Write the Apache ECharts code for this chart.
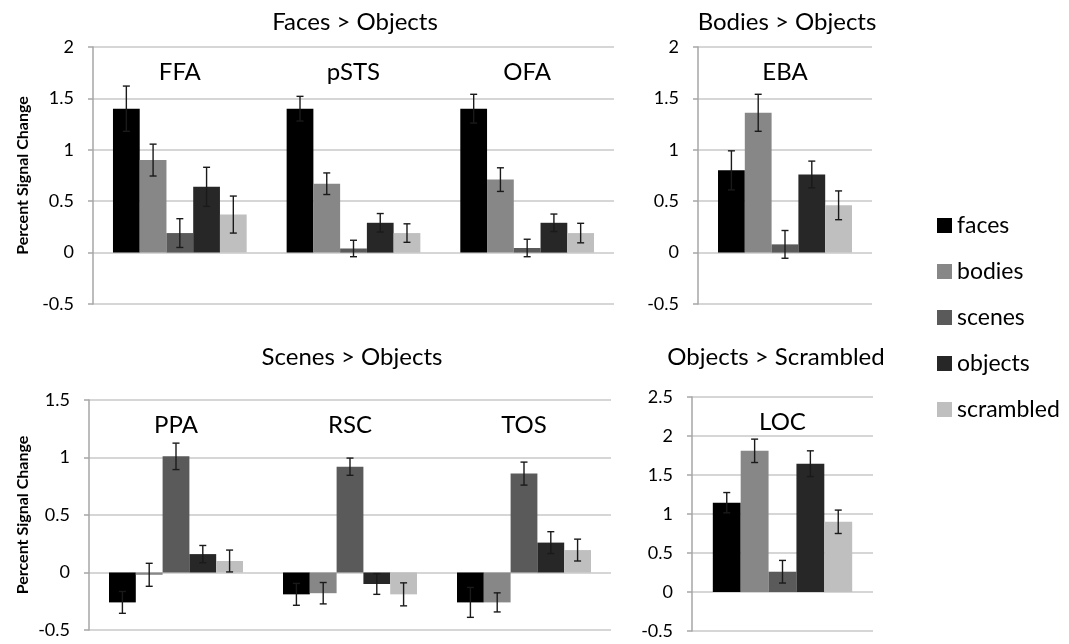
<!DOCTYPE html>
<html><head><meta charset="utf-8">
<script src="https://cdn.jsdelivr.net/npm/echarts@6/dist/echarts.min.js"></script>
<style>html,body{margin:0;padding:0;background:#fff}#c{width:1069px;height:644px}</style>
</head><body><div id="c"></div>
<script>
// ---------------- data ----------------
const conditions = ['faces', 'bodies', 'scenes', 'objects', 'scrambled'];
const colors = ['#000000', '#878787', '#5a5a5a', '#272727', '#bfbfbf'];

const faceRegions = ['FFA', 'pSTS', 'OFA'];
const faceMeans = [
  [1.40, 1.40, 1.40],
  [0.90, 0.67, 0.71],
  [0.19, 0.04, 0.045],
  [0.64, 0.29, 0.29],
  [0.37, 0.19, 0.19]
];
const faceErrs = [
  [0.22, 0.12, 0.14],
  [0.155, 0.105, 0.115],
  [0.14, 0.08, 0.085],
  [0.19, 0.09, 0.085],
  [0.18, 0.09, 0.095]
];

const bodyRegions = ['EBA'];
const bodyMeans = [[0.80], [1.36], [0.08], [0.76], [0.46]];
const bodyErrs = [[0.19], [0.18], [0.135], [0.13], [0.14]];

const sceneRegions = ['PPA', 'RSC', 'TOS'];
const sceneMeans = [
  [-0.26, -0.19, -0.26],
  [-0.02, -0.18, -0.26],
  [1.01, 0.92, 0.86],
  [0.16, -0.10, 0.26],
  [0.10, -0.19, 0.195]
];
const sceneErrs = [
  [0.095, 0.095, 0.13],
  [0.10, 0.093, 0.083],
  [0.115, 0.075, 0.10],
  [0.075, 0.09, 0.095],
  [0.095, 0.10, 0.095]
];

const objectRegions = ['LOC'];
const objectMeans = [[1.145], [1.81], [0.26], [1.645], [0.90]];
const objectErrs = [[0.13], [0.15], [0.145], [0.165], [0.15]];

const panelTitles = ['Faces > Objects', 'Bodies > Objects', 'Scenes > Objects', 'Objects > Scrambled'];
const yRanges = [[-0.5, 2], [-0.5, 2], [-0.5, 1.5], [-0.5, 2.5]];
const yStep = 0.5;
const yName = 'Percent Signal Change';

// ---------------- layout ----------------
const FONT = 'Lato, "Open Sans", sans-serif';
const GAP = 0.23;
const panels = [
  { regions: faceRegions, means: faceMeans, errs: faceErrs },
  { regions: bodyRegions, means: bodyMeans, errs: bodyErrs },
  { regions: sceneRegions, means: sceneMeans, errs: sceneErrs },
  { regions: objectRegions, means: objectMeans, errs: objectErrs }
];
const grids = [
  { left: 93, top: 47, width: 521, height: 257 },
  { left: 698, top: 47, width: 174, height: 257 },
  { left: 89, top: 400, width: 522, height: 230 },
  { left: 692, top: 397, width: 181, height: 234 }
];
const titlePos = [[355, 10], [787, 10], [352, 345], [776, 345]];

const xAxes = [], yAxes = [], series = [], titles = [];
panels.forEach((p, pi) => {
  xAxes.push({
    gridIndex: pi, type: 'category', data: p.regions, position: 'top',
    axisLine: { show: false }, axisTick: { show: false }, splitLine: { show: false },
    axisLabel: { inside: true, margin: 13, fontSize: 24, color: '#000', fontFamily: FONT }
  });
  yAxes.push({
    gridIndex: pi, type: 'value', min: yRanges[pi][0], max: yRanges[pi][1], interval: yStep,
    name: (pi % 2 === 0) ? yName : '',
    nameLocation: 'middle', nameRotate: 90, nameGap: grids[pi].left - 31,
    nameTextStyle: { fontSize: 16, fontWeight: 'bold', color: '#000', fontFamily: FONT },
    axisLine: { show: true, lineStyle: { color: '#a6a6a6', width: 1.5 } },
    axisTick: { show: true, length: 5, lineStyle: { color: '#a6a6a6', width: 1.5 } },
    axisLabel: { fontSize: 18, color: '#000', margin: 19, fontFamily: FONT },
    splitLine: { show: true, lineStyle: { color: '#c8c8c8', width: 1.5 } }
  });
  titles.push({
    text: panelTitles[pi], left: titlePos[pi][0], top: titlePos[pi][1], textAlign: 'center', padding: 0,
    textStyle: { fontSize: 24, fontWeight: 'normal', color: '#000', fontFamily: FONT }
  });
  conditions.forEach((c, ci) => {
    series.push({
      type: 'bar', name: c, xAxisIndex: pi, yAxisIndex: pi,
      data: p.means[ci], barGap: '0%', barCategoryGap: (GAP * 100) + '%',
      itemStyle: { color: colors[ci] }, silent: true
    });
  });
  const errData = [];
  conditions.forEach((c, ci) => {
    p.regions.forEach((r, ri) => errData.push([ri, ci, p.means[ci][ri], p.errs[ci][ri]]));
  });
  series.push({
    type: 'custom', xAxisIndex: pi, yAxisIndex: pi, data: errData, silent: true, z: 5,
    encode: { x: 0, y: 2 },
    renderItem: function (params, api) {
      const cat = api.value(0), ci = api.value(1), m = api.value(2), e = api.value(3);
      const base = api.coord([cat, m]);
      const bw = api.size([1, 0], [cat, m])[0];
      const grp = bw * (1 - GAP);
      const barW = grp / conditions.length;
      const x = base[0] - grp / 2 + (ci + 0.5) * barW;
      const yTop = api.coord([cat, m + e])[1];
      const yBot = api.coord([cat, m - e])[1];
      const cap = 3.5;
      const st = { stroke: '#1a1a1a', lineWidth: 1.4 };
      return {
        type: 'group', children: [
          { type: 'line', shape: { x1: x, y1: yTop, x2: x, y2: yBot }, style: st },
          { type: 'line', shape: { x1: x - cap, y1: yTop, x2: x + cap, y2: yTop }, style: st },
          { type: 'line', shape: { x1: x - cap, y1: yBot, x2: x + cap, y2: yBot }, style: st }
        ]
      };
    }
  });
});

const chart = echarts.init(document.getElementById('c'), null, { renderer: 'canvas' });
chart.setOption({
  backgroundColor: '#fff',
  animation: false,
  textStyle: { fontFamily: FONT },
  title: titles,
  legend: {
    data: conditions, orient: 'vertical', left: 932, top: 209,
    icon: 'rect', itemWidth: 15, itemHeight: 15, itemGap: 23, selectedMode: false,
    textStyle: { fontSize: 23, color: '#000', fontFamily: FONT }
  },
  grid: grids,
  xAxis: xAxes,
  yAxis: yAxes,
  series: series
});
</script>
</body></html>
